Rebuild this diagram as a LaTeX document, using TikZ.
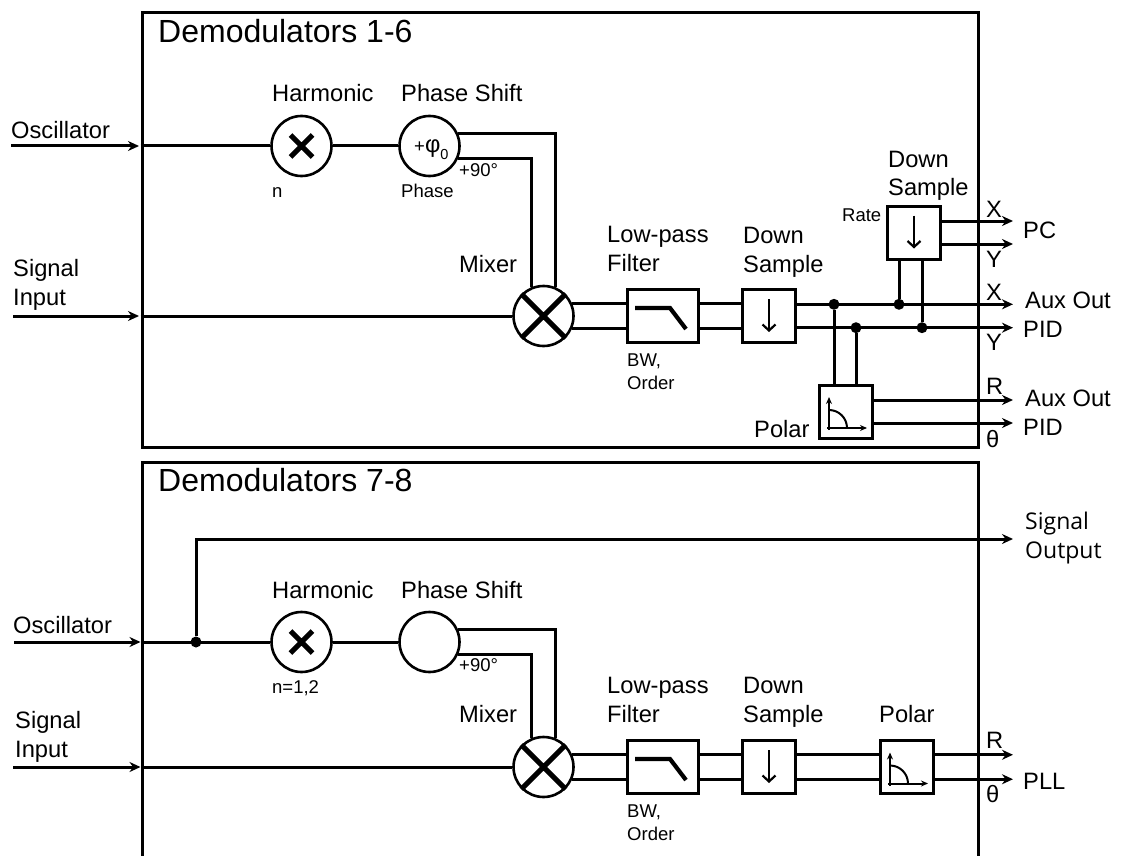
\documentclass[tikz,border=0pt]{standalone}
\usepackage{fontspec}
\setmainfont{Liberation Sans}
\newfontfamily\outfont{Open Sans}
\usetikzlibrary{arrows.meta, calc}

\begin{document}
\begin{tikzpicture}[
		x=1pt, y=-1pt,
		>={Stealth[length=11pt, width=10pt]},
		% Frame around a demodulator group
		groupbox/.style={
				rectangle, draw=black, line width=3pt,
				minimum width=836pt, minimum height=434pt, inner sep=0pt
			},
		% Round function blocks
		roundbox/.style={
				circle, draw=black, line width=2.6pt, fill=white,
				minimum size=#1, inner sep=0pt,
				font=\fontsize{18.5}{22}\selectfont
			},
		% Square function blocks
		stdbox/.style={
				rectangle, draw=black, line width=3pt, fill=white,
				minimum width=#1, minimum height=53pt, inner sep=0pt
			},
		% Junction dots
		junction/.style={circle, fill=black, minimum size=11pt, inner sep=0pt},
		% Text
		titlelab/.style={anchor=base west, inner sep=0pt, font=\fontsize{32}{38}\selectfont},
		biglab/.style={anchor=base west, inner sep=0pt, align=left, font=\fontsize{23.7}{28.7}\selectfont},
		smalllab/.style={anchor=base west, inner sep=0pt, align=left, font=\fontsize{18.5}{22.5}\selectfont},
		outlab/.style={anchor=base west, inner sep=0pt, align=left, font=\outfont\fontsize{23}{28.5}\selectfont},
		% Wires
		wire/.style={line width=3pt},
		arrowwire/.style={->, line width=3pt},
		% Icons inside the blocks
		crossicon/.pic={\draw[line width=5pt] (-11,-11) -- (11,11) (-11,11) -- (11,-11);},
		filtericon/.pic={\draw[line width=4.2pt] (-27.5,-8) -- (7.5,-8) -- (23.5,13);},
		downicon/.pic={\draw[-{Straight Barb[length=6pt, width=13pt]}, line width=2.2pt] (0,-17) -- (0,16);},
		polaricon/.pic={
				\draw[-{Stealth[length=7pt, width=6pt]}, line width=2pt] (-17,18.5) -- (-17,-14.5);
				\draw[-{Stealth[length=7pt, width=6pt]}, line width=2pt] (-19,16.5) -- (21,16.5);
				\draw[line width=2pt] (-17,-1.5) arc[start angle=-90, end angle=0, radius=18];
			}
	]

	\useasboundingbox (0,0) rectangle (1122,856);

	% ==========================================
	% 1. DEMODULATORS 1-6
	% ==========================================

	\node[groupbox] (group1) at (560, 230) {};
	\node[titlelab] (title1) at (158, 43) {Demodulators 1-6};

	% Blocks
	\node[roundbox=60pt] (harm1) at (301.5, 146) {};
	\node[roundbox=60pt] (phase1) at (429.5, 146) {};
	\node[roundbox=60pt] (mixer1) at (543.5, 316) {};
	\node[stdbox=71pt] (lpf1) at (662.5, 316) {};
	\node[stdbox=53pt] (down1) at (769, 316) {};
	\node[stdbox=53pt] (downpc) at (914, 232.5) {};
	\node[stdbox=53pt] (polar1) at (846, 411.5) {};

	% Icons
	\pic at (harm1) {crossicon};
	\draw[line width=5pt] (mixer1.45) -- (mixer1.225) (mixer1.135) -- (mixer1.315);
	\pic at (lpf1) {filtericon};
	\pic at (down1) {downicon};
	\pic at (downpc) {downicon};
	\pic at (polar1) {polaricon};

	% Free ends of the wires
	\coordinate (oscin1) at (11, 146);
	\coordinate (sigin1) at (13, 316);
	\coordinate (pcx) at (1013, 221);
	\coordinate (pcy) at (1013, 244);
	\coordinate (auxx) at (1013, 304.3);
	\coordinate (pidy) at (1013, 327.7);
	\coordinate (auxr) at (1013, 400);
	\coordinate (pidt) at (1013, 423);

	% Junctions
	\node[junction] (polarx) at (834, 304.3) {};
	\node[junction] (polary) at (856, 327.7) {};
	\node[junction] (pcxtap) at (899, 304.3) {};
	\node[junction] (pcytap) at (922, 327.7) {};

	% Inputs
	\draw[arrowwire, shorten >=1.5pt] (oscin1) -- (oscin1 -| group1.west);
	\draw[arrowwire, shorten >=1.5pt] (sigin1) -- (sigin1 -| group1.west);
	\draw[wire] (oscin1 -| group1.west) -- (harm1);
	\draw[wire] (harm1) -- (phase1);
	\draw[wire] (sigin1 -| group1.west) -- (mixer1);

	% Phase shift into mixer
	\draw[wire] (phase1.23) -| (mixer1.67);
	\draw[wire] (phase1.-23) -| (mixer1.113);

	% Mixer through filter and down sampler
	\draw[wire] (mixer1.23) -- (mixer1.23 -| lpf1.west);
	\draw[wire] (mixer1.-23) -- (mixer1.-23 -| lpf1.west);
	\draw[wire] (mixer1.23 -| lpf1.east) -- (mixer1.23 -| down1.west);
	\draw[wire] (mixer1.-23 -| lpf1.east) -- (mixer1.-23 -| down1.west);
	\draw[arrowwire] (auxx -| down1.east) -- (auxx);
	\draw[arrowwire] (pidy -| down1.east) -- (pidy);

	% Taps
	\draw[wire] (polarx) -- (polarx |- polar1.north);
	\draw[wire] (polary) -- (polary |- polar1.north);
	\draw[wire] (pcxtap) -- (pcxtap |- downpc.south);
	\draw[wire] (pcytap) -- (pcytap |- downpc.south);

	% Outputs
	\draw[arrowwire] (pcx -| downpc.east) -- (pcx);
	\draw[arrowwire] (pcy -| downpc.east) -- (pcy);
	\draw[arrowwire] (auxr -| polar1.east) -- (auxr);
	\draw[arrowwire] (pidt -| polar1.east) -- (pidt);

	% Labels
	\node[biglab] (osclab1) at (11, 139) {Oscillator};
	\node[biglab] (siglab1) at (13, 305) {Signal\\Input};
	\node[biglab] (harmlab1) at (272, 102) {Harmonic};
	\node[biglab] (phaselab1) at (401, 102) {Phase Shift};
	\node[smalllab] (nlab1) at (272, 197) {n};
	\node[smalllab] (phval1) at (401, 197) {Phase};
	\node[smalllab] (ninety1) at (459, 176) {+90°};
	\node[smalllab] (phi1) at (414, 152.5) {+{\fontsize{23.7}{28}\selectfont φ}\raisebox{-7pt}{\fontsize{14.5}{16}\selectfont 0}};
	\node[biglab] (mixlab1) at (459, 272) {Mixer};
	\node[biglab] (lpflab1) at (607, 271) {Low-pass\\Filter};
	\node[biglab] (downlab1) at (743, 272) {Down\\Sample};
	\node[smalllab] (bwlab1) at (627, 389) {BW,\\Order};
	\node[biglab] (downlabpc) at (888, 196) {Down\\Sample};
	\node[smalllab] (ratelab) at (842, 221) {Rate};
	\node[biglab] (polarlab1) at (754, 437) {Polar};
	\node[biglab] (xlabpc) at (986, 217) {X};
	\node[biglab] (ylabpc) at (986, 267) {Y};
	\node[biglab] (pclab) at (1023, 238) {PC};
	\node[biglab] (xlabaux) at (986, 300) {X};
	\node[biglab] (auxlab1) at (1025, 308) {Aux Out};
	\node[biglab] (pidlab1) at (1023, 337) {PID};
	\node[biglab] (ylabaux) at (986, 350) {Y};
	\node[biglab] (rlab1) at (986, 394) {R};
	\node[biglab] (auxlab2) at (1025, 406) {Aux Out};
	\node[biglab] (pidlab2) at (1023, 435) {PID};
	\node[biglab] (tlab1) at (986, 447) {θ};

	% ==========================================
	% 2. DEMODULATORS 7-8 (open at the bottom)
	% ==========================================

	\coordinate (frameleft) at (142, 856);
	\coordinate (frameright) at (978, 856);
	\coordinate (frametop) at (560, 462);
	\draw[line width=3pt] (frameleft) |- (frametop) -| (frameright);
	\node[titlelab] (title2) at (158, 491) {Demodulators 7-8};

	% Blocks
	\node[roundbox=60pt] (harm2) at (301.5, 642) {};
	\node[roundbox=60pt] (phase2) at (429.5, 642) {};
	\node[roundbox=60pt] (mixer2) at (543.5, 767) {};
	\node[stdbox=71pt] (lpf2) at (662.5, 767) {};
	\node[stdbox=53pt] (down2) at (769, 767) {};
	\node[stdbox=53pt] (polar2) at (907, 767) {};

	% Icons
	\pic at (harm2) {crossicon};
	\draw[line width=5pt] (mixer2.45) -- (mixer2.225) (mixer2.135) -- (mixer2.315);
	\pic at (lpf2) {filtericon};
	\pic at (down2) {downicon};
	\pic at (polar2) {polaricon};

	% Free ends of the wires
	\coordinate (oscin2) at (14, 642);
	\coordinate (sigin2) at (13, 767);
	\coordinate (sigout) at (1013, 539);
	\coordinate (pllend) at (1013, 767);
	\node[junction] (osctap) at (196, 642) {};

	% Inputs
	\draw[arrowwire, shorten >=1.5pt] (oscin2) -- (oscin2 -| frameleft);
	\draw[arrowwire, shorten >=1.5pt] (sigin2) -- (sigin2 -| frameleft);
	\draw[wire] (oscin2 -| frameleft) -- (harm2);
	\draw[wire] (harm2) -- (phase2);
	\draw[wire] (sigin2 -| frameleft) -- (mixer2);
	\draw[arrowwire] (osctap) |- (sigout);

	% Phase shift into mixer
	\draw[wire] (phase2.23) -| (mixer2.67);
	\draw[wire] (phase2.-23) -| (mixer2.113);

	% Mixer through to the outputs
	\draw[wire] (mixer2.23) -- (mixer2.23 -| lpf2.west);
	\draw[wire] (mixer2.-23) -- (mixer2.-23 -| lpf2.west);
	\draw[wire] (mixer2.23 -| lpf2.east) -- (mixer2.23 -| down2.west);
	\draw[wire] (mixer2.-23 -| lpf2.east) -- (mixer2.-23 -| down2.west);
	\draw[wire] (mixer2.23 -| down2.east) -- (mixer2.23 -| polar2.west);
	\draw[wire] (mixer2.-23 -| down2.east) -- (mixer2.-23 -| polar2.west);
	\draw[arrowwire] (mixer2.23 -| polar2.east) -- (mixer2.23 -| pllend);
	\draw[arrowwire] (mixer2.-23 -| polar2.east) -- (mixer2.-23 -| pllend);

	% Labels
	\node[biglab] (osclab2) at (13, 633) {Oscillator};
	\node[biglab] (siglab2) at (15, 757) {Signal\\Input};
	\node[biglab] (harmlab2) at (272, 598) {Harmonic};
	\node[biglab] (phaselab2) at (401, 598) {Phase Shift};
	\node[smalllab] (nlab2) at (272, 693) {n=1,2};
	\node[smalllab] (ninety2) at (459, 671) {+90°};
	\node[biglab] (mixlab2) at (459, 722) {Mixer};
	\node[biglab] (lpflab2) at (607, 722) {Low-pass\\Filter};
	\node[biglab] (downlab2) at (743, 722) {Down\\Sample};
	\node[smalllab] (bwlab2) at (627, 840) {BW,\\Order};
	\node[biglab] (polarlab2) at (879, 722) {Polar};
	\node[biglab] (rlab2) at (986, 748) {R};
	\node[biglab] (tlab2) at (986, 802) {θ};
	\node[biglab] (plllab) at (1023, 789) {PLL};
	\node[outlab] (outlab) at (1025, 558) {Signal\\Output};

\end{tikzpicture}
\end{document}
